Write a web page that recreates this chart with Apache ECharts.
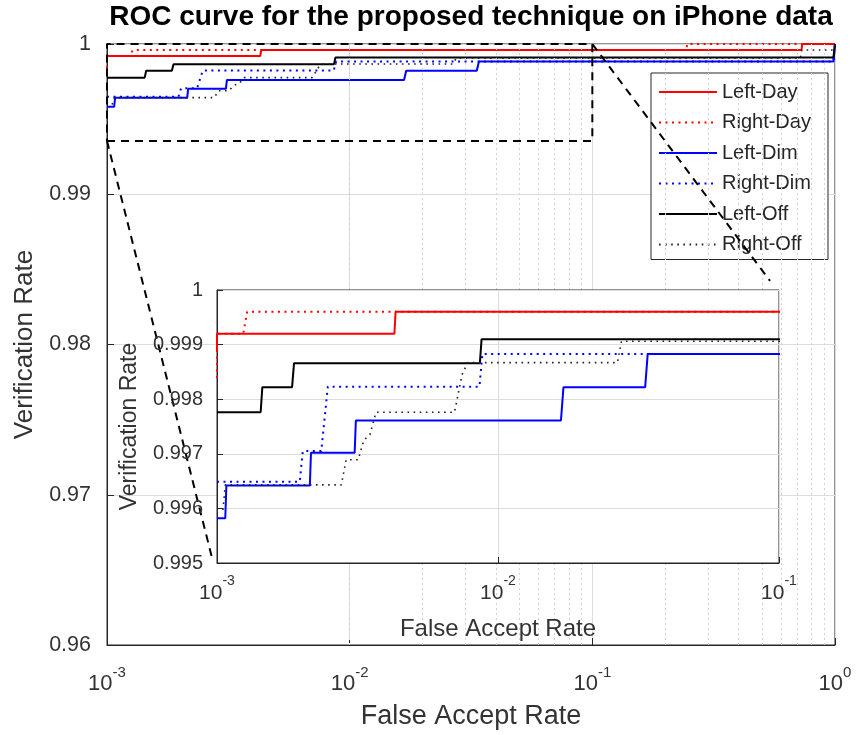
<!DOCTYPE html>
<html><head><meta charset="utf-8">
<script src="https://cdn.jsdelivr.net/npm/echarts@6/dist/echarts.min.js"></script>
<style>html,body{margin:0;padding:0;background:#fff}#c{width:860px;height:735px}</style>
</head><body><div id="c"></div>
<script>
// ---------- data ----------
const seriesNames = ['Left-Day', 'Right-Day', 'Left-Dim', 'Right-Dim', 'Left-Off', 'Right-Off'];

const leftDayX  = [0.001, 0.001, 0.00428, 0.00432, 0.728, 0.732, 1];
const leftDayY  = [0.99887, 0.99920, 0.99920, 0.99960, 0.99960, 1.0, 1.0];

const rightDayX = [0.001, 0.001, 0.00124, 0.00128, 0.244, 0.246, 1];
const rightDayY = [0.99839, 0.99920, 0.99920, 0.99960, 0.99960, 1.0, 1.0];

const leftDimX  = [0.001, 0.00107, 0.00108, 0.00214, 0.00216, 0.00309, 0.00312, 0.01675, 0.0171, 0.0334, 0.0341, 0.985, 1];
const leftDimY  = [0.99582, 0.99582, 0.99642, 0.99642, 0.99702, 0.99702, 0.99761, 0.99761, 0.99822, 0.99822, 0.99883, 0.99883, 1.0];

const rightDimX = [0.001, 0.00197, 0.00202, 0.00235, 0.00248, 0.00859, 0.00880, 0.985, 1];
const rightDimY = [0.99649, 0.99649, 0.99705, 0.99705, 0.99823, 0.99823, 0.99883, 0.99883, 1.0];

const leftOffX  = [0.001, 0.00143, 0.00145, 0.00185, 0.00188, 0.00862, 0.00874, 0.985, 1];
const leftOffY  = [0.99776, 0.99776, 0.99822, 0.99822, 0.99866, 0.99866, 0.99910, 0.99910, 1.0];

const rightOffX = [0.00105, 0.00107, 0.00277, 0.00288, 0.00318, 0.00333, 0.00350, 0.00368, 0.00700, 0.00745, 0.00780, 0.0266, 0.0275, 0.720, 0.730, 0.985, 1];
const rightOffY = [0.99597, 0.99643, 0.99643, 0.99689, 0.99689, 0.99725, 0.99735, 0.99776, 0.99776, 0.99845, 0.99867, 0.99867, 0.99906, 0.99906, 0.99960, 0.99960, 1.0];

// zoom box and connectors (main-axes data coordinates)
const zoomBoxX = [0.001, 0.1, 0.1, 0.001, 0.001];
const zoomBoxY = [0.99355, 0.99355, 1.0, 1.0, 0.99355];
const connLowX = [0.001, 0.0027];
const connLowY = [0.99355, 0.96589];
const connUpX  = [0.1, 0.54];
const connUpY  = [1.0, 0.98423];

// axis ticks
const mainXRange = [0.001, 1];
const mainYRange = [0.96, 1];
const mainYStep = 0.01;
const insetXRange = [0.001, 0.1];
const insetYRange = [0.995, 1];
const insetYStep = 0.001;
const minorXMain = [0.002,0.003,0.004,0.005,0.006,0.007,0.008,0.009,0.02,0.03,0.04,0.05,0.06,0.07,0.08,0.09,0.2,0.3,0.4,0.5,0.6,0.7,0.8,0.9];
const minorXInset = [0.002,0.003,0.004,0.005,0.006,0.007,0.008,0.009,0.02,0.03,0.04,0.05,0.06,0.07,0.08,0.09];

// ---------- chart ----------
const FONT = 'Liberation Sans';
const TXT = '#333333';
const pts = (xs, ys) => xs.map((x, i) => [x, ys[i]]);
const curveData = [pts(leftDayX, leftDayY), pts(rightDayX, rightDayY), pts(leftDimX, leftDimY),
                   pts(rightDimX, rightDimY), pts(leftOffX, leftOffY), pts(rightOffX, rightOffY)];
const curveStyle = [
  {color: '#ff0000', width: 2, type: 'solid'},
  {color: '#ff0000', width: 2, type: [2, 4.5]},
  {color: '#0000ff', width: 2, type: 'solid'},
  {color: '#0000ff', width: 2, type: [2, 4.5]},
  {color: '#000000', width: 2, type: 'solid'},
  {color: '#222222', width: 1.6, type: [1.6, 4.5]}
];

function logLabel(size, supSize) {
  return {
    formatter: v => '{b|10}{s|' + Math.round(Math.log10(v)) + '}',
    rich: {
      b: {fontFamily: FONT, fontSize: size, color: TXT, lineHeight: 30, verticalAlign: 'bottom'},
      s: {fontFamily: FONT, fontSize: supSize, color: TXT, lineHeight: 30, verticalAlign: 'top'}
    }
  };
}

function curves(gridIdx, z) {
  return seriesNames.map((name, i) => ({
    name: name, type: 'line', xAxisIndex: gridIdx, yAxisIndex: gridIdx,
    data: curveData[i], showSymbol: false, symbol: 'none', z: z,
    lineStyle: curveStyle[i], itemStyle: {color: curveStyle[i].color},
    animation: false, silent: true, clip: true
  }));
}
function minorGrid(gridIdx, vals, z) {
  return {
    type: 'line', xAxisIndex: gridIdx, yAxisIndex: gridIdx, data: [], z: z, silent: true,
    markLine: {
      silent: true, symbol: 'none', label: {show: false}, animation: false,
      lineStyle: {color: '#d2d2d2', width: 1, type: [2, 3]},
      data: vals.map(v => ({xAxis: v}))
    }
  };
}
const dashStyle = {color: '#000', width: 2, type: [8, 6]};
function dashLine(xs, ys) {
  return {type: 'line', xAxisIndex: 0, yAxisIndex: 0, data: pts(xs, ys), showSymbol: false, symbol: 'none',
          lineStyle: dashStyle, z: 6, silent: true, clip: false, animation: false};
}

const option = {
  animation: false,
  backgroundColor: '#fff',
  graphic: [{
    type: 'text', x: 471, y: 17, z: 20,
    style: {text: 'ROC curve for the proposed technique on iPhone data', font: 'bold 28px "Liberation Sans"',
            fill: '#000', align: 'center', verticalAlign: 'middle', textAlign: 'center', textVerticalAlign: 'middle'}
  }],
  legend: {
    data: seriesNames, orient: 'vertical', left: 651, top: 73, z: 4,
    backgroundColor: '#fff', borderColor: '#262626', borderWidth: 1, borderRadius: 0,
    padding: [9, 6, 5, 7], itemWidth: 58, itemHeight: 14, itemGap: 10.5, itemTextGap: 5,
    itemStyle: {opacity: 0, color: 'rgba(0,0,0,0)', borderWidth: 0},
    textStyle: {fontFamily: FONT, fontSize: 20, color: '#262626', width: 100, lineHeight: 20},
    selectedMode: false
  },
  grid: [
    {left: 107, top: 44, width: 728, height: 601, show: true, borderColor: '#262626', borderWidth: 1, backgroundColor: '#fff', z: 0},
    {left: 217, top: 290, width: 562, height: 273, show: true, borderColor: '#262626', borderWidth: 1, backgroundColor: '#fff', z: 10}
  ],
  xAxis: [
    {type: 'log', logBase: 10, gridIndex: 0, min: mainXRange[0], max: mainXRange[1], interval: 1,
     name: 'False Accept Rate', nameLocation: 'middle', nameGap: 58,
     nameTextStyle: {fontFamily: FONT, fontSize: 27, color: TXT},
     axisLine: {lineStyle: {color: '#262626'}}, axisTick: {inside: true, length: 7, lineStyle: {color: '#262626'}},
     axisLabel: Object.assign({margin: 20}, logLabel(22, 15)),
     splitLine: {show: true, lineStyle: {color: '#dcdcdc', width: 1}}},
    {type: 'log', logBase: 10, gridIndex: 1, min: insetXRange[0], max: insetXRange[1], interval: 1, z: 11,
     name: 'False Accept Rate', nameLocation: 'middle', nameGap: 54,
     nameTextStyle: {fontFamily: FONT, fontSize: 24, color: TXT},
     axisLine: {lineStyle: {color: '#262626'}}, axisTick: {inside: true, length: 6, lineStyle: {color: '#262626'}},
     axisLabel: Object.assign({margin: 11}, logLabel(21, 14)),
     splitLine: {show: true, lineStyle: {color: '#dcdcdc', width: 1}}}
  ],
  yAxis: [
    {type: 'value', gridIndex: 0, min: mainYRange[0], max: mainYRange[1], interval: mainYStep,
     name: 'Verification Rate', nameLocation: 'middle', nameGap: 63,
     nameTextStyle: {fontFamily: FONT, fontSize: 26, color: TXT},
     axisLine: {show: true, lineStyle: {color: '#262626'}}, axisTick: {show: true, inside: true, length: 7, lineStyle: {color: '#262626'}},
     axisLabel: {fontFamily: FONT, fontSize: 21.5, color: TXT, margin: 16},
     splitLine: {show: true, lineStyle: {color: '#dcdcdc', width: 1}}},
    {type: 'value', gridIndex: 1, min: insetYRange[0], max: insetYRange[1], interval: insetYStep, z: 11,
     name: 'Verification Rate', nameLocation: 'middle', nameGap: 76,
     nameTextStyle: {fontFamily: FONT, fontSize: 23, color: TXT},
     axisLine: {show: true, lineStyle: {color: '#262626'}}, axisTick: {show: true, inside: true, length: 6, lineStyle: {color: '#262626'}},
     axisLabel: {fontFamily: FONT, fontSize: 20, color: TXT, margin: 14},
     splitLine: {show: true, lineStyle: {color: '#dcdcdc', width: 1}}}
  ],
  series: [].concat(
    [minorGrid(0, minorXMain, 1)],
    curves(0, 3),
    [dashLine(zoomBoxX, zoomBoxY), dashLine(connLowX, connLowY), dashLine(connUpX, connUpY)],
    [minorGrid(1, minorXInset, 11)],
    curves(1, 12)
  )
};
const chart = echarts.init(document.getElementById('c'), null, {renderer: 'canvas'});
chart.setOption(option);
</script>
</body></html>
